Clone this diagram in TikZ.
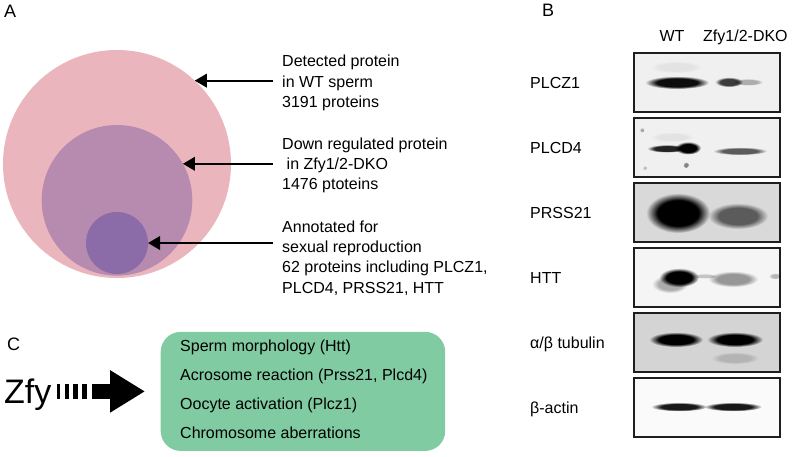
\documentclass[tikz,border=0pt]{standalone}
\usepackage{fontspec}
\setmainfont{Liberation Sans}
\usetikzlibrary{arrows.meta}

\definecolor{wtpink}{HTML}{EAB5BC}
\definecolor{komauve}{HTML}{B78AAF}
\definecolor{reppurple}{HTML}{8B6BA8}
\definecolor{rolegreen}{HTML}{80CBA2}
\definecolor{blotframe}{HTML}{1E1E1E}
\colorlet{bandcore}{black}
\pgfdeclareradialshading[bandcore]{band}{\pgfpointorigin}{%
    color(0bp)=(bandcore); color(16bp)=(bandcore);
    color(25bp)=(white); color(50bp)=(white)}

% one fuzzy band of a blot: x, y, half width, half height, core colour
\newcommand{\band}[5]{
    \colorlet{bandcore}{#5}
    \shade[shading=band, blend mode=multiply] (#1,#2) ellipse ({#3pt} and {#4pt});
}

\tikzset{
    note/.style={font=\fontsize{16}{20.3}\selectfont, align=left, inner sep=0pt, anchor=base west},
    panel/.style={font=\fontsize{18}{18}\selectfont, inner sep=0pt, anchor=base west},
    set/.style={circle, inner sep=0pt, outer sep=0pt},
    pointer/.style={line width=2pt, -{Triangle[length=12pt,width=13.5pt]}},
    blot/.style={draw=blotframe, line width=2pt, minimum width=146pt, minimum height=59pt,
        inner sep=0pt, anchor=north west},
    rolebox/.style={fill=rolegreen, rounded corners=20pt, minimum width=284.5pt,
        minimum height=119pt, inner sep=0pt, anchor=north west},
}

\begin{document}
\begin{tikzpicture}[x=1pt, y=-1pt]
    \fill[white] (0,0) rectangle (792,456);
    \useasboundingbox (0,0) rectangle (792,456);

    % A: nested sets
    \node[panel] (pa) at (4,17) {A};
    \node[set, fill=wtpink, minimum size=228pt] (detected) at (117,164) {};
    \node[set, fill=komauve, minimum size=150.6pt] (down) at (117,200.3) {};
    \node[set, fill=reppurple, minimum size=62pt] (repro) at (117,243) {};

    % base of a multi-line note = its last line
    \node[note] (lbldet) at (282,107.3) {Detected protein\\in WT sperm\\3191 proteins};
    \node[note] (lbldown) at (282,189.6) {Down regulated protein\\\hspace*{4.5pt}in Zfy1/2-DKO\\1476 ptoteins};
    \node[note] (lblrep) at (282,293.2) {Annotated for\\sexual reproduction\\62 proteins including PLCZ1,\\PLCD4, PRSS21, HTT};

    \draw[pointer] ([xshift=-9pt]lbldet.west |- detected.47.5) -- (detected.47.5);
    \draw[pointer] ([xshift=-9pt]lbldown.west |- down.29.7) -- (down.29.7);
    \draw[pointer] ([xshift=-9pt]lblrep.west |- repro.east) -- (repro.east);

    % B: western blots
    \node[panel] (pb) at (542,16.7) {B};
    \node[note, anchor=base] (hdwt) at (672,41.7) {WT};
    \node[note] (hdko) at (703,41.7) {Zfy1/2-DKO};
    \foreach \bg/\lbl [count=\i] in {black!6/PLCZ1, black!6/PLCD4, black!15/PRSS21,
        black!4/HTT, black!17/{α/β tubulin}, black!2/β-actin}{
        \node[blot, fill=\bg] (blot\i) at (633,{52+65*(\i-1)}) {};
        \node[note] (prot\i) at (530,{88+65*(\i-1)}) {\lbl};
    }
    % PLCZ1
    \band{676}{67}{26}{6}{black!5}
    \band{677}{82.5}{32}{6.5}{black!95}
    \band{729}{82}{14}{5}{black!75}
    \band{748}{82}{15}{3.5}{black!28}
    % PLCD4
    \band{672}{137}{22}{5}{black!5}
    \band{667}{148.5}{20}{4}{black!85}
    \band{688}{148}{13}{6.5}{black}
    \band{740}{151}{27}{4}{black!62}
    \band{642}{130}{2.5}{2.5}{black!30}
    \band{645}{168}{2}{2}{black!22}
    \band{686}{165}{3}{3}{black!45}
    % PRSS21
    \band{678}{213}{32}{20}{black}
    \band{738}{216}{30}{13}{black!58}
    % HTT
    \band{670}{284}{18}{9}{black!30}
    \band{679}{277.5}{20}{9.5}{black}
    \band{705}{276}{12}{2.5}{black!20}
    \band{733}{279}{25}{8}{black!38}
    \band{775}{276}{6}{3}{black!25}
    % tubulin
    \band{676}{339.5}{27}{7.5}{black}
    \band{735}{339.5}{28}{7.5}{black}
    \band{735}{358}{24}{6}{black!15}
    % actin
    \band{679}{406.7}{28}{4.5}{black!90}
    \band{733}{406.7}{29}{4.5}{black!90}

    % C: functions
    \node[panel] (pc) at (7,350) {C};
    \node[rolebox] (roles) at (160.5,331.7) {};
    \node[note, font=\fontsize{16}{28.8}\selectfont] (rolelist) at (180,438.1)
        {Sperm morphology (Htt)\\Acrosome reaction (Prss21, Plcd4)\\Oocyte activation (Plcz1)\\Chromosome aberrations};
    \node[inner sep=0pt, anchor=base west, font=\fontsize{34}{34}\selectfont] (zfy) at (4,403) {Zfy};
    \draw[line width=15pt, dash pattern=on 2.2pt off 5.5pt on 4.3pt off 3.7pt on 5pt off 3.7pt on 5pt off 9pt]
        ([xshift=5.8pt]zfy.east |- roles.west) coordinate (dash) -- ++(34.4,0);
    \draw[line width=15pt, -{Triangle[length=35pt,width=40pt]}]
        ([xshift=34.4pt]dash) -- ([xshift=-15.5pt]roles.west);
\end{tikzpicture}
\end{document}
